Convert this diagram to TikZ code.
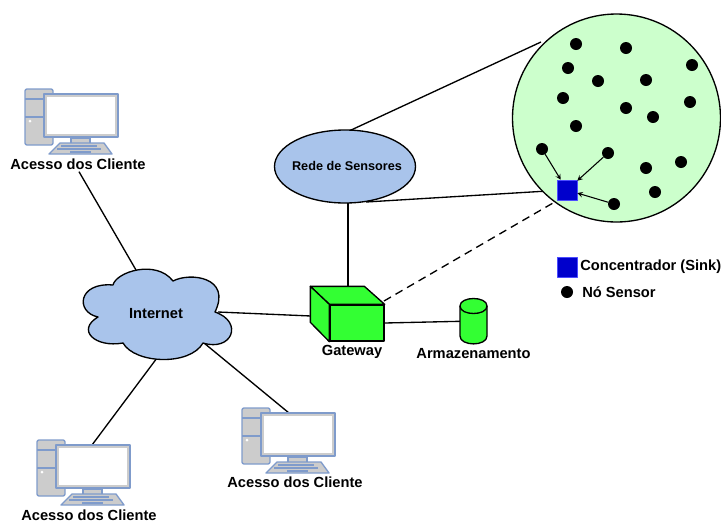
\documentclass[tikz,border=0pt]{standalone}
\usepackage{fontspec}
\setmainfont{Liberation Sans}
\usetikzlibrary{shapes.geometric,backgrounds}
\definecolor{pcblue}{HTML}{7F9BCB}
\definecolor{pcgrey}{HTML}{CCCCCC}
\definecolor{netblue}{HTML}{A9C4EB}
\definecolor{fieldgreen}{HTML}{CCFFCC}
\definecolor{boxgreen}{HTML}{33FF33}
\definecolor{sinkblue}{HTML}{0000CC}
\tikzset{
	label text/.style={font=\fontsize{11}{13}\selectfont\bfseries, inner sep=0pt},
	dot/.style={circle, fill=black, minimum size=9pt, inner sep=0pt},
	sinkbox/.style={rectangle, fill=sinkblue, draw=blue!70!white, line width=.4pt, minimum size=15pt, inner sep=0pt},
	wire/.style={line width=1pt, black},
	pcpic/.pic={
		\draw[pcblue, fill=pcgrey, line width=1pt, rounded corners=1.5pt] (0,0) rectangle (28,56);
		\draw[pcblue, line width=1pt] (0,10)--(19,10) (0,28)--(19,28);
		\fill[white] (5,32) circle (1.5);
		\draw[pcblue, fill=pcgrey, line width=1pt] (46,49) rectangle (65,55);
		\draw[pcblue, fill=pcgrey, line width=1pt] (19,5) rectangle (93,48);
		\fill[white] (22,8) rectangle (90,45);
		\draw[pcblue, fill=pcgrey, line width=1pt] (35,54)--(79,54)--(87,65)--(24,65)--cycle;
		\draw[pcblue, line width=.8pt] (36,57)--(72,57) (32,60)--(76,60) (45,63)--(66,63);
	}
}
\begin{document}
\begin{tikzpicture}[x=.75pt, y=-.75pt, line join=round, >=stealth]
	\useasboundingbox (0,0) rectangle (721,522);
	\def\u{.75pt}
	% sensor field
	\node[circle, draw=black, line width=1pt, fill=fieldgreen, minimum size=208*\u, inner sep=0pt] (field) at (616.5,118) {};
	\foreach \px/\py in {576/44, 626/48, 692/65, 568/68, 598/81, 646/80, 563/98, 626/108, 690/102, 653/117, 576/126, 646/168, 681/162, 655/192}
		\node[dot] at (\px,\py) {};
	\node[dot] (dotA) at (542,149) {};
	\node[dot] (dotB) at (608,153) {};
	\node[dot] (dotC) at (614,204) {};
	\node[sinkbox] (sink) at (567,190) {};
	\draw[->, line width=.8pt] (dotA)--(sink);
	\draw[->, line width=.8pt] (dotB)--(sink);
	\draw[->, line width=.8pt] (dotC)--(sink);
	% legend
	\node[sinkbox] (legsink) at (567,267) {};
	\node[label text, anchor=west] (legsinktxt) at (580,267) {Concentrador (Sink)};
	\node[dot] (legdot) at (567,292) {};
	\node[label text, anchor=west] (legdottxt) at (582,292) {Nó Sensor};
	% network
	\node[ellipse, draw=black, line width=1pt, fill=netblue, minimum width=141*\u, minimum height=73*\u, inner sep=0pt] (rede) at (345,166.5) {};
	\node[font=\fontsize{9.5}{11}\selectfont\bfseries, inner sep=0pt] (redetxt) at (347,166) {Rede de Sensores};
	\draw[line width=1pt, fill=netblue] (113,285) .. controls (116,272) and (156,259) .. (173,281)
		.. controls (190,272) and (232,277) .. (215,312)
		.. controls (244,322) and (232,352) .. (203,343)
		.. controls (190,366) and (135,364) .. (123,343)
		.. controls (95,348) and (76,330) .. (98,317)
		.. controls (75,312) and (78,282) .. (113,285) -- cycle;
	\node[label text] (internet) at (156,314) {Internet};
	\node[rectangle, draw=black, line width=1pt, fill=boxgreen, minimum width=54*\u, minimum height=36*\u, inner sep=0pt] (gateway) at (357,323) {};
	\draw[line width=1pt, fill=boxgreen] (gateway.north west)--++(-19,-18)--++(54,0)--(gateway.north east)--cycle;
	\draw[line width=1pt, fill=boxgreen] (gateway.north west)--++(-19,-18)--++(0,36)--(gateway.south west)--cycle;
	\node[label text] (gatewaytxt) at (352,352) {Gateway};
	\coordinate (store) at (473.5,321);
	\draw[line width=1pt, fill=boxgreen] (460,306) .. controls (460,296) and (487,296) .. (487,306)
		-- (487,336) .. controls (487,346.5) and (460,346.5) .. (460,336) -- cycle;
	\draw[line width=1pt] (460,306) .. controls (460,316) and (487,316) .. (487,306);
	\node[label text] (storetxt) at (473.5,354) {Armazenamento};
	% clients
	\pic at (25,89) {pcpic};
	\pic at (37,440) {pcpic};
	\pic at (242,408) {pcpic};
	\node[label text] (clientA) at (78,164) {Acesso dos Cliente};
	\node[label text] (clientB) at (89,515) {Acesso dos Cliente};
	\node[label text] (clientC) at (295,482) {Acesso dos Cliente};
	\coordinate (cloudtop) at (136,270);
	\coordinate (cloudleft) at (157,358);
	\coordinate (cloudright) at (204,343);
	\coordinate (cloudeast) at (218,312);
	\coordinate (gwwest) at (311,316);
	\coordinate (gwtop) at (348,287);
	\coordinate (gwcorner) at (384,301);
	\coordinate (pcB) at (92,445);
	\coordinate (pcC) at (289,413);
	\coordinate (fieldtop) at (541,42);
	\coordinate (fieldlow) at (556,190.5);
	\coordinate (fieldend) at (553,203);
	\coordinate (redeup) at (349,131);
	\coordinate (redelow) at (366,202);
	\coordinate (redebot) at (348,202);
	\begin{scope}[on background layer]
		\draw[wire] (clientA.south)++(1,2)--(cloudtop);
		\draw[wire] (cloudleft)--(pcB);
		\draw[wire] (cloudright)--(pcC);
		\draw[wire] (cloudeast)--(gwwest);
		\draw[wire] (redebot)--(gwtop);
		\draw[wire] (gateway.east)--(store);
		\draw[wire] (redeup)--(fieldtop);
		\draw[wire] (redelow)--(fieldlow);
		\draw[wire, dashed, dash pattern=on 6pt off 4pt] (gwcorner)--(fieldend);
	\end{scope}
\end{tikzpicture}
\end{document}
